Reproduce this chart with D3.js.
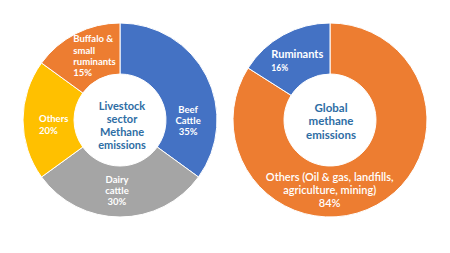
<!DOCTYPE html>
<html>
<head>
<meta charset="utf-8">
<script src="https://cdn.jsdelivr.net/npm/d3@7"></script>
<style>
  body { margin: 0; background: #fff; }
  svg { display: block; font-family: Lato, "Open Sans", sans-serif; }
  .slice-label { fill: #fff; font-weight: bold; }
  .center-title { fill: #2E6DA4; font-weight: bold; text-anchor: middle; }
</style>
</head>
<body>
<div id="chart"></div>
<script>
// Livestock sector methane emissions (left donut)
const livestockCategories = ['Beef Cattle', 'Dairy cattle', 'Others', 'Buffalo & small ruminants'];
const livestockValues = [35, 30, 20, 15];
const livestockLabelLines = [['Beef', 'Cattle', '35%'], ['Dairy', 'cattle', '30%'], ['Others', '20%'], ['Buffalo &', 'small', 'ruminants', '15%']];
const livestockTitle = ['Livestock', 'sector', 'Methane', 'emissions'];

// Global methane emissions (right donut)
const globalCategories = ['Others (Oil & gas, landfills, agriculture, mining)', 'Ruminants'];
const globalValues = [84, 16];
const globalLabelLines = [['Others (Oil & gas, landfills,', 'agriculture, mining)', '84%'], ['Ruminants', '16%']];
const globalTitle = ['Global', 'methane', 'emissions'];

const width = 450, height = 253;

const svg = d3.select('#chart').append('svg')
    .attr('width', width)
    .attr('height', height);

class Donut {
    constructor(_config) {
        this.config = _config;
        this.initVis();
    }

    initVis() {
        let vis = this;
        let c = vis.config;

        vis.chart = svg.append('g')
            .attr('transform', `translate(${c.cx},${c.cy})`);

        vis.pie = d3.pie().sort(null).value(d => d.value);
        vis.arc = d3.arc().innerRadius(c.inner).outerRadius(c.outer);
        vis.labelArc = d3.arc().innerRadius(c.labelR).outerRadius(c.labelR);

        vis.color = d3.scaleOrdinal()
            .domain(c.categories)
            .range(c.colors);

        vis.data = c.categories.map((k, i) => ({key: k, value: c.values[i], lines: c.lines[i]}));
        vis.renderVis();
    }

    renderVis() {
        let vis = this;
        let c = vis.config;
        const arcs = vis.pie(vis.data);

        vis.chart.selectAll('.slice')
            .data(arcs)
            .join('path')
            .attr('class', 'slice')
            .attr('d', vis.arc)
            .attr('fill', d => vis.color(d.data.key))
            .attr('stroke', '#fff')
            .attr('stroke-width', 1);

        // slice labels, placed from the arc centroid plus a nudge
        vis.chart.selectAll('.slice-label')
            .data(arcs)
            .join('text')
            .attr('class', 'slice-label')
            .each(function(d, i) {
                const lay = c.labelLayout[i];
                const [x, y] = vis.labelArc.centroid(d);
                const n = d.data.lines.length;
                const el = d3.select(this)
                    .attr('text-anchor', lay.anchor)
                    .style('font-size', lay.size + 'px')
                    .style('font-weight', lay.weight || 'bold');
                d.data.lines.forEach((line, j) => {
                    el.append('tspan')
                        .attr('x', x + lay.dx)
                        .attr('y', y + lay.dy + (j - (n - 1) / 2) * lay.lh + lay.size * 0.35)
                        .style('font-size', (lay.sizes ? lay.sizes[j] : lay.size) + 'px')
                        .text(line);
                });
            });

        // centre title
        const nt = c.title.length;
        vis.chart.append('text')
            .attr('class', 'center-title')
            .style('font-size', c.titleSize + 'px')
            .selectAll('tspan')
            .data(c.title)
            .join('tspan')
            .attr('x', c.titleDx)
            .attr('y', (d, j) => c.titleDy + (j - (nt - 1) / 2) * c.titleLh + c.titleSize * 0.35)
            .text(d => d);
    }
}

new Donut({
    cx: 120, cy: 120, inner: 46, outer: 97, labelR: 72,
    categories: livestockCategories,
    values: livestockValues,
    lines: livestockLabelLines,
    colors: ['#4472C4', '#A5A5A5', '#FFC000', '#ED7D31'],
    labelLayout: [
        {anchor: 'middle', dx: 4, dy: 33, lh: 11, size: 9.5},
        {anchor: 'middle', dx: -3, dy: -1, lh: 11, size: 9.5},
        {anchor: 'start', dx: -9, dy: 5, lh: 12, size: 9.5},
        {anchor: 'start', dx: -14, dy: 0, lh: 11.3, size: 9.5}
    ],
    title: livestockTitle, titleSize: 11, titleLh: 13, titleDx: 2, titleDy: 6
});

new Donut({
    cx: 330, cy: 120, inner: 46, outer: 97, labelR: 72,
    categories: globalCategories,
    values: globalValues,
    lines: globalLabelLines,
    colors: ['#ED7D31', '#4472C4'],
    labelLayout: [
        {anchor: 'middle', dx: -35, dy: 7, lh: 13, size: 11, weight: 600},
        {anchor: 'start', dx: -24, dy: 4, lh: 13, size: 11, sizes: [11, 8.5]}
    ],
    title: globalTitle, titleSize: 11.5, titleLh: 13.5, titleDx: 1, titleDy: 1
});
</script>
</body>
</html>
